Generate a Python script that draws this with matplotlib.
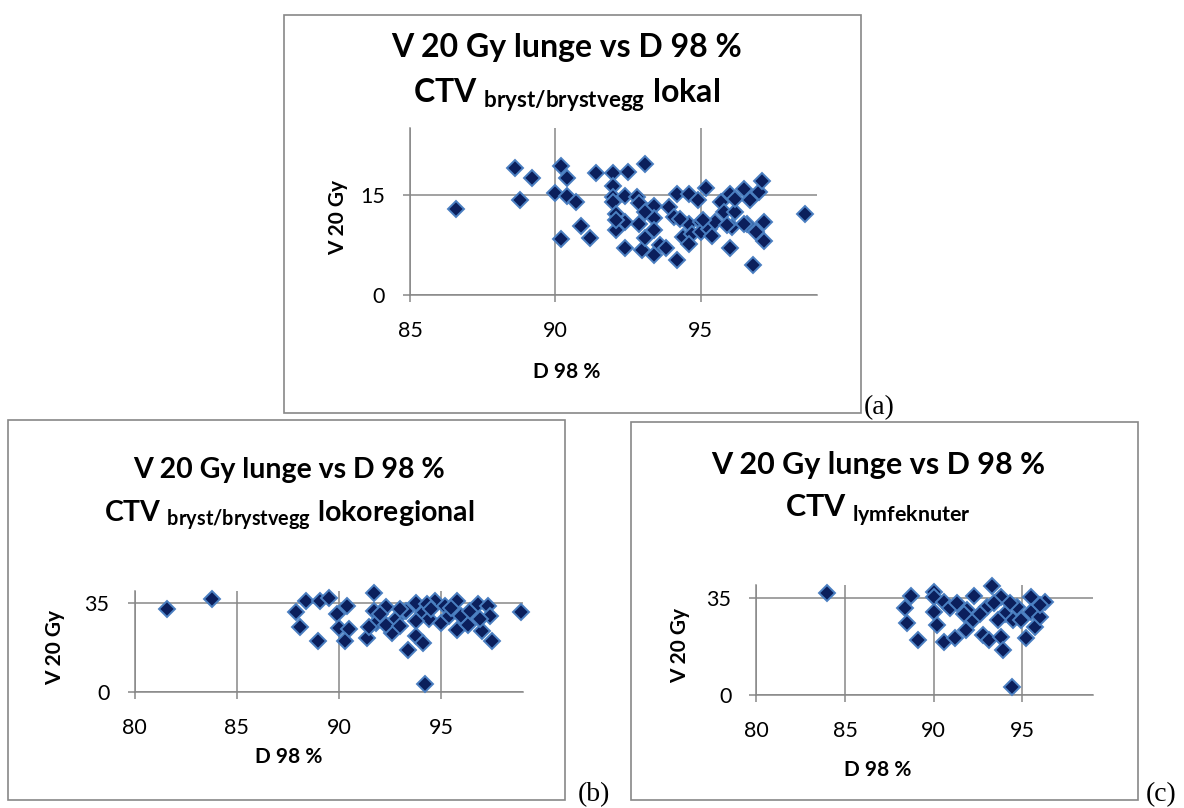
import matplotlib
matplotlib.use("Agg")
import matplotlib.pyplot as plt
from matplotlib.patches import Rectangle

plt.rcParams['font.family'] = ['Lato', 'DejaVu Sans']
plt.rcParams['mathtext.fontset'] = 'custom'
plt.rcParams['mathtext.rm'] = 'Lato'
plt.rcParams['mathtext.bf'] = 'Lato:bold'

# (a) CTV bryst/brystvegg lokal
xa = [86.6, 88.6, 88.8, 89.2, 90.0, 90.2, 90.4, 90.4, 90.2, 90.7, 90.9, 91.2,
      91.4, 92.0, 92.5, 93.1, 92.0, 92.0, 92.0, 92.4, 92.1, 92.1, 92.4, 92.4,
      92.8, 92.9, 92.9, 93.0, 93.1, 93.3, 93.4, 93.4, 93.4, 93.4, 93.6, 93.8,
      93.9, 94.1, 94.2, 94.2, 94.4, 94.6, 94.6, 94.7, 94.6, 94.9, 95.0, 95.0,
      95.2, 95.3, 95.4, 95.5, 95.7, 95.8, 96.0, 96.0, 96.1, 96.2, 96.2, 96.5,
      96.7, 96.6, 96.8, 96.9, 97.0, 97.1, 97.2, 97.2, 98.6, 94.3, 95.9, 96.5,
      95.1, 93.1, 92.1]
ya = [12.9, 19.1, 14.3, 17.5, 15.3, 19.3, 17.6, 14.9, 8.4, 13.9, 10.3, 8.6,
      18.3, 18.3, 18.5, 19.6, 16.4, 14.7, 13.9, 14.9, 12.2, 9.7, 11.0, 7.1,
      14.7, 13.8, 10.7, 6.7, 8.6, 12.9, 13.4, 11.5, 6.0, 9.7, 7.5, 7.0,
      13.2, 11.7, 15.2, 5.2, 8.7, 10.7, 15.2, 9.2, 7.7, 14.2, 10.9, 9.5,
      16.1, 9.9, 8.9, 10.9, 13.9, 12.4, 15.2, 7.1, 10.2, 12.4, 14.4, 15.9,
      14.2, 10.7, 4.5, 9.5, 15.4, 17.1, 10.9, 8.1, 12.1, 11.4, 10.5, 10.7,
      11.2, 12.4, 11.2]

# (b) CTV bryst/brystvegg lokoregional
xb = [81.6, 83.8, 87.9, 88.1, 88.4, 89.1, 89.5, 89.0, 89.9, 90.0, 90.4, 90.5,
      90.3, 91.7, 91.4, 91.7, 91.8, 92.3, 92.6, 92.8, 93.3, 93.4, 93.8, 93.8,
      94.1, 94.2, 94.1, 94.4, 94.7, 95.0, 95.2, 95.4, 95.8, 95.8, 96.0, 96.3,
      96.4, 96.8, 97.0, 97.3, 97.4, 97.5, 98.9, 94.3, 93.0, 92.0, 92.3, 94.5,
      96.9, 91.5, 95.5, 93.8, 93.0]
yb = [32.6, 36.9, 31.7, 25.5, 35.9, 35.9, 37.3, 20.0, 30.6, 25.3, 33.9, 25.0,
      20.0, 39.0, 21.3, 32.0, 27.3, 33.4, 23.3, 28.6, 32.0, 16.6, 22.0, 35.3,
      19.3, 3.1, 31.3, 28.6, 35.9, 27.3, 33.9, 29.9, 35.9, 24.6, 29.9, 26.6,
      32.0, 34.6, 24.0, 33.9, 29.9, 20.0, 31.6, 34.6, 32.6, 30.6, 26.6, 32.6,
      28.6, 25.6, 33.2, 28.0, 25.9]

# (c) CTV lymfeknuter
xc = [84.0, 88.7, 88.4, 88.5, 89.1, 90.0, 90.0, 90.0, 90.2, 90.6, 90.6, 90.9,
      91.2, 91.3, 91.8, 91.9, 92.3, 92.2, 92.8, 93.1, 93.3, 93.0, 93.8, 93.8,
      93.9, 94.4, 94.0, 94.5, 94.7, 95.2, 95.5, 95.5, 95.7, 96.0, 96.3, 96.0,
      92.6, 93.6, 94.9, 93.4, 94.3, 91.7]
yc = [36.8, 35.8, 31.6, 25.9, 19.9, 37.4, 35.4, 30.2, 25.3, 33.8, 19.3, 31.4,
      20.5, 33.2, 23.5, 30.8, 35.8, 27.1, 21.7, 19.9, 39.4, 31.9, 35.6, 21.1,
      16.3, 3.0, 29.5, 27.1, 31.9, 20.5, 35.6, 30.2, 24.7, 28.3, 33.8, 32.6,
      29.5, 27.1, 27.1, 33.2, 33.2, 29.5]

title1 = "V 20 Gy lunge vs D 98 %"
xlabel = "D 98 %"
ylabel = "V 20 Gy"

W, H = 1184, 808
GRID = '#878787'
FACE = '#0b1f5c'
EDGE = '#4a7fc1'

fig = plt.figure(figsize=(W / 100, H / 100), dpi=100)


def fx(px):
    return px / W


def fy(py):
    return 1 - py / H


def panel(box, plot, x, y, xlim, ylim, yticks, line2, tsize, cx, ty, ylab_x, xlab_y, tag, tag_x):
    # chart area border
    l, t, r, b = box
    fig.patches.append(Rectangle((fx(l), fy(b)), fx(r - l), (b - t) / H,
                                 transform=fig.transFigure, fill=False,
                                 edgecolor=GRID, linewidth=1.2))
    pl, pt, pr, pb = plot
    ax = fig.add_axes([fx(pl), fy(pb), fx(pr - pl), (pb - pt) / H])
    ax.plot(x, y, linestyle='none', marker='D', markersize=8,
            markerfacecolor=FACE, markeredgecolor=EDGE, markeredgewidth=1.4,
            clip_on=False, zorder=3)
    ax.set_xlim(*xlim)
    ax.set_ylim(*ylim)
    ax.set_xticks(range(xlim[0], 96, 5))
    ax.set_yticks(yticks)
    ax.set_axisbelow(True)
    ax.grid(True, color=GRID, linewidth=1.1)
    for s in ['top', 'right']:
        ax.spines[s].set_visible(False)
    for s in ['left', 'bottom']:
        ax.spines[s].set_color(GRID)
        ax.spines[s].set_linewidth(1.1)
    ax.tick_params(direction='out', length=5, width=1.1, color=GRID,
                   labelsize=15.5)
    ax.tick_params(axis='x', pad=14)
    ax.tick_params(axis='y', pad=13)
    fig.text(fx(cx), fy(ty[0]), title1, ha='center', va='center',
             fontsize=tsize, fontweight='bold')
    fig.text(fx(cx), fy(ty[1]), line2, ha='center', va='center',
             fontsize=tsize, fontweight='bold')
    fig.text(fx(ylab_x), fy((pt + pb) / 2 + 6), ylabel, rotation=90,
             ha='center', va='center', fontsize=15, fontweight='bold')
    fig.text(fx(cx), fy(xlab_y), xlabel, ha='center',
             va='center', fontsize=15, fontweight='bold')
    fig.text(fx(tag_x), fy(b - 5), tag, ha='left', va='center',
             fontsize=20, family=['Liberation Serif', 'DejaVu Serif'])
    return ax


panel((284, 15, 861, 413), (410, 128.3, 816.7, 295), xa, ya,
      (85, 99), (0, 25), [0, 15],
      r"CTV $_{\mathbf{bryst/brystvegg}}$ lokal", 23,
      567, (47, 95), 338, 372, "(a)", 864)

panel((8, 420, 565, 800), (134.5, 590.7, 522.7, 691.7), xb, yb,
      (80, 99), (0, 40), [0, 35],
      r"CTV $_{\mathbf{bryst/brystvegg}}$ lokoregional", 20.5,
      289, (470, 516), 55, 757, "(b)", 578)

panel((631, 422, 1138, 800), (756.3, 584.5, 1093.3, 695), xc, yc,
      (80, 99), (0, 40), [0, 35],
      r"CTV $_{\mathbf{lymfeknuter}}$", 22,
      878, (465, 510), 680, 770, "(c)", 1146)

fig.savefig("out.png", dpi=100, facecolor='white')
